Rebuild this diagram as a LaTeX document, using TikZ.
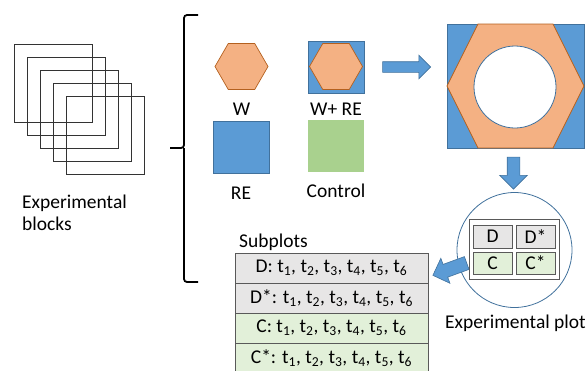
\documentclass[tikz,border=0pt]{standalone}
\usepackage{fontspec}
\setmainfont{Carlito}
\usetikzlibrary{shapes.geometric, shapes.arrows, positioning}

\definecolor{reblue}{HTML}{5B9BD5}
\definecolor{reblueline}{HTML}{41719C}
\definecolor{worange}{HTML}{F4B183}
\definecolor{worangeline}{HTML}{B4601E}
\definecolor{ctrlgreen}{HTML}{A9D18E}
\definecolor{rowgray}{HTML}{E7E6E6}
\definecolor{rowgreen}{HTML}{E2F0D9}
\definecolor{cellline}{HTML}{595959}

\newcommand{\timeseq}{t\textsubscript{1}, t\textsubscript{2}, t\textsubscript{3}, t\textsubscript{4}, t\textsubscript{5}, t\textsubscript{6}}

\begin{document}
\begin{tikzpicture}[
        x=1pt, y=-1pt,
        font=\fontsize{19.5}{22}\selectfont,
        blocksq/.style={rectangle, draw=black!80, line width=1.2pt, minimum size=78pt, inner sep=0pt},
        hexw/.style={regular polygon, regular polygon sides=6, draw=worangeline, fill=worange, line width=0.7pt, minimum size=53pt, inner sep=0pt},
        resq/.style={rectangle, draw=reblueline, fill=reblue, line width=0.8pt, minimum width=56pt, minimum height=52pt, inner sep=0pt},
        ctrlsq/.style={rectangle, fill=ctrlgreen, minimum width=56pt, minimum height=52pt, inner sep=0pt},
        lbl/.style={inner sep=0pt},
        bigarrow/.style={single arrow, draw=reblueline, fill=reblue, line width=0.6pt, inner xsep=0pt, single arrow tip angle=90},
        cell/.style={rectangle, draw=cellline, line width=0.8pt, minimum width=39pt, minimum height=22pt, inner sep=0pt},
        row/.style={rectangle, draw=cellline, line width=0.8pt, minimum width=193pt, minimum height=30pt, inner sep=0pt}
    ]
        \useasboundingbox (0,0) rectangle (588,370);

        % Experimental blocks
        \foreach \i in {0,...,4}
            \node[blocksq] (blk\i) at (53.5+13*\i, 83.5+13*\i) {};
        \node[lbl, align=left, anchor=north west] (blklabel) at (22, 195) {Experimental\\blocks};

        % Brace
        \draw[line width=1.8pt, rounded corners=3pt] (198,15) -| (184,148) -- (170,148);
        \draw[line width=1.8pt, rounded corners=3pt] (198,282) -| (184,148);

        % Treatments
        \node[hexw] (hexW) at (241.5, 66.5) {};
        \node[lbl, below=12.5pt of hexW] (labW) {W};
        \node[resq] (sqWRE) at (336, 67) {};
        \node[hexw] (hexWRE) at (336, 66.5) {};
        \node[lbl, below=9pt of sqWRE] (labWRE) {W+ RE};
        \node[resq] (sqRE) at (241, 147.5) {};
        \node[lbl, below=13pt of sqRE] (labRE) {RE};
        \node[ctrlsq] (sqC) at (336, 146) {};
        \node[lbl, below=12pt of sqC] (labC) {Control};

        % Combined plot
        \node[rectangle, draw=reblueline, fill=reblue, line width=0.8pt, minimum width=137pt, minimum height=124pt, inner sep=0pt] (plan) at (515.5, 86) {};
        \filldraw[fill=worange, draw=worangeline, line width=0.8pt] (478,24) -- (553,24) -- (584,86) -- (553,148) -- (478,148) -- (447,86) -- cycle;
        \node[circle, draw=reblueline, fill=white, line width=0.8pt, minimum size=82pt, inner sep=0pt] (hole) at (515, 87) {};

        \node[bigarrow, minimum height=48pt, inner ysep=5pt, single arrow head extend=6.5pt] (arrR) at (404, 67) {};
        \node[bigarrow, rotate=-90, minimum height=32pt, inner ysep=6pt, single arrow head extend=7.5pt] (arrD) at (513.5, 170) {};

        % Experimental plot
        \node[circle, draw=reblueline, line width=0.8pt, minimum size=115pt, inner sep=0pt] (plotcirc) at (514.5, 250) {};
        \node[rectangle, draw=cellline, fill=white, line width=0.8pt, minimum width=90pt, minimum height=60pt, inner sep=0pt] (plotframe) at (514, 249) {};
        \node[cell, fill=rowgray, minimum height=23pt] (cD) at (492.5, 236.5) {D};
        \node[cell, fill=rowgray, minimum height=23pt] (cDs) at (535.5, 236.5) {D*};
        \node[cell, fill=rowgreen] (cC) at (492.5, 263) {C};
        \node[cell, fill=rowgreen] (cCs) at (535.5, 263) {C*};
        \node[lbl, anchor=base west] (plotlabel) at (445, 328) {Experimental plot};

        \node[bigarrow, rotate=200, minimum height=36pt, inner ysep=6.5pt, single arrow head extend=6.5pt] (arrL) at (453, 268) {};

        % Subplots
        \node[lbl, anchor=base west] (sublabel) at (239, 247) {Subplots};
        \node[row, fill=rowgray] (rowD) at (331.5, 268) {D: \timeseq};
        \node[row, fill=rowgray] (rowDs) at (331.5, 298) {D*: \timeseq};
        \node[row, fill=rowgreen] (rowC) at (331.5, 328) {C: \timeseq};
        \node[row, fill=rowgreen] (rowCs) at (331.5, 358) {C*: \timeseq};
    \end{tikzpicture}
\end{document}
